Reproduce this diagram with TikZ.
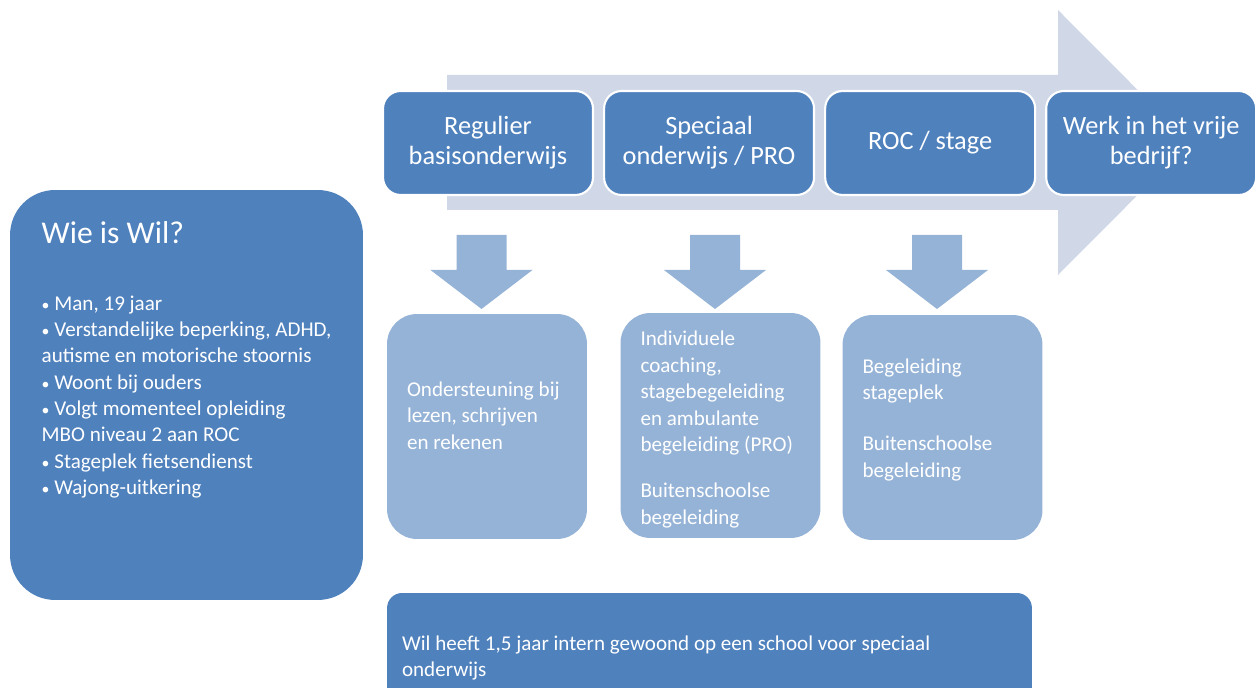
\documentclass[tikz,border=0pt]{standalone}
\usepackage{fontspec}
\setmainfont{Carlito}
\usetikzlibrary{positioning}

\definecolor{wilblue}{HTML}{4F81BD}
\definecolor{wilsupport}{HTML}{95B3D7}
\definecolor{wilflow}{HTML}{D0D8E8}

% extra depth below the last line, lifts the text in its box
\newcommand{\boxlift}[1]{\rule[-#1]{0pt}{0pt}}
% extra height above the first line, drops the text in its box
\newcommand{\boxdrop}[1]{\rule{0pt}{#1}}

\begin{document}
\begin{tikzpicture}[x=0.02cm, y=-0.02cm, node distance=0.18cm,
    stepbox/.style={draw=white, line width=1.2pt, fill=wilblue, rounded corners=0.35cm,
      minimum width=4.2cm, minimum height=2.08cm, align=center, text=white,
      font=\fontsize{15}{17}\selectfont},
    supportbox/.style={fill=wilsupport, rounded corners=0.6cm, minimum width=4cm,
      minimum height=4.5cm, text width=3.2cm, inner xsep=0.4cm, align=flush left,
      text=white, font=\fontsize{12}{15}\selectfont},
    infobox/.style={fill=wilblue, text=white, align=flush left,
      font=\fontsize{12}{15}\selectfont},
    downarrow/.style={fill=wilsupport},
    flow/.style={fill=wilflow}]
  \useasboundingbox (0,0) rectangle (1258,688);

  % big arrow behind the steps
  \fill[flow] (447,75) -- (1058,75) -- (1058,10) -- (1190,142.5)
    -- (1058,275) -- (1058,210) -- (447,210) -- cycle;

  \node[stepbox] (regulier) at (488,143) {Regulier\\basisonderwijs};
  \node[stepbox] (speciaal) [right=of regulier] {Speciaal\\onderwijs / PRO};
  \node[stepbox] (roc) [right=of speciaal] {ROC / stage};
  \node[stepbox] (werk) [right=of roc] {Werk in het vrije\\bedrijf?};

  \foreach \x in {481.5,715,937}
    \fill[downarrow] (\x-25,235) -- (\x+25,235) -- (\x+25,270) -- (\x+51,270)
      -- (\x,309) -- (\x-51,270) -- (\x-25,270) -- cycle;

  \node[supportbox] (lezen) at (487,426.5) {Ondersteuning~bij\\lezen, schrijven\\en rekenen\boxlift{12.4pt}};
  \node[supportbox] (coaching) at (720.5,425.5) {\boxdrop{13pt}Individuele\\coaching,\\stagebegeleiding\\en ambulante\\begeleiding~(PRO)\\[11.5pt]Buitenschoolse\\begeleiding};
  \node[supportbox] (stageplek) at (942.5,427.5) {Begeleiding\\stageplek\\[14pt]Buitenschoolse\\begeleiding\boxlift{10.8pt}};

  \node[infobox, rounded corners=0.9cm, minimum width=7.06cm, minimum height=8.2cm]
    (wil) at (186.5,395)
    {{\fontsize{18}{22}\selectfont Wie is Wil?}\\[23pt]
     {\small\textbullet} Man, 19 jaar\\
     {\small\textbullet} Verstandelijke beperking, ADHD,\\
     autisme en motorische stoornis\\
     {\small\textbullet} Woont bij ouders\\
     {\small\textbullet} Volgt momenteel opleiding\\
     MBO niveau 2 aan ROC\\
     {\small\textbullet} Stageplek fietsendienst\\
     {\small\textbullet} Wajong-uitkering\boxlift{42pt}};

  \node[infobox, rounded corners=0.3cm, minimum width=12.9cm, minimum height=2.6cm,
    text width=12.3cm, inner xsep=0.3cm] (intern) at (709.5,658)
    {Wil heeft 1,5 jaar intern gewoond op een school voor speciaal\\onderwijs\boxlift{2pt}};
\end{tikzpicture}
\end{document}
